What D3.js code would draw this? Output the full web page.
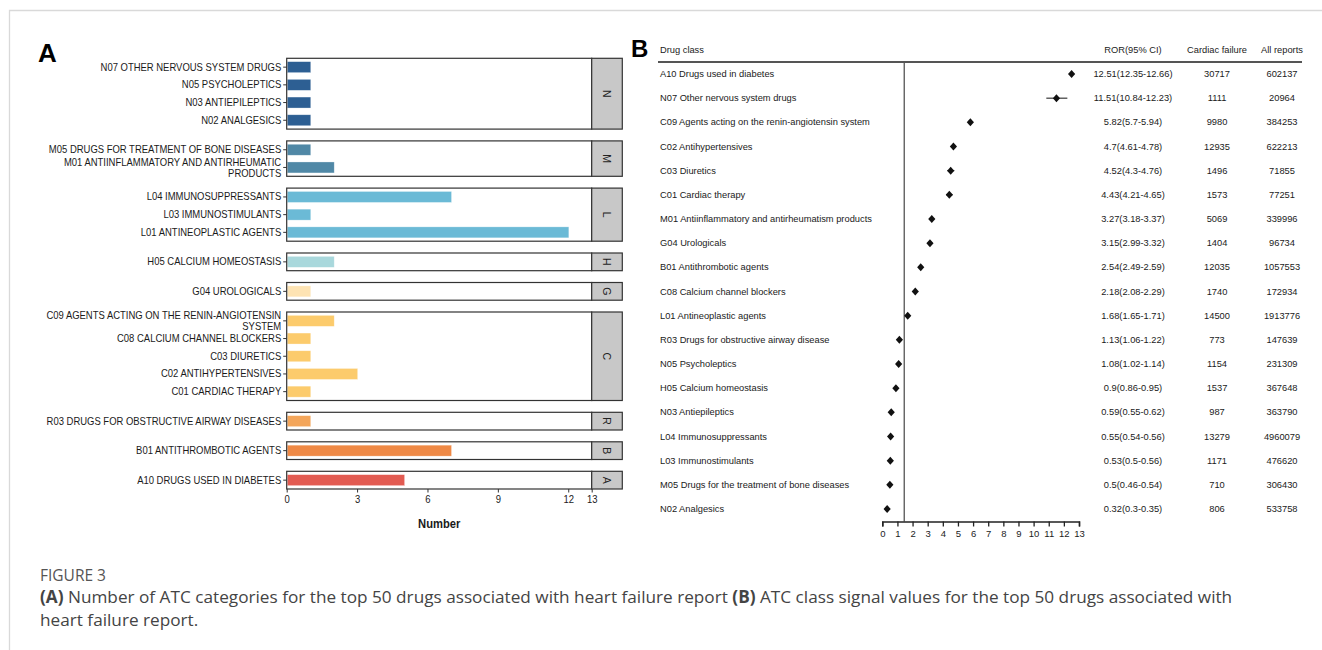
<!DOCTYPE html>
<html lang="en">
<head>
  <meta charset="UTF-8"/>
  <title>Figure 3 ATC categories and ROR</title>
  <script src="https://d3js.org/d3.v7.min.js"></script>
  <style>
    body { margin: 0; background: #fff; }
  </style>
</head>
<body>
<script>
  var w = 1322;
  var h = 650;

  // ---- panel A data ----
  var groups = ["N", "M", "L", "H", "G", "C", "R", "B", "A"];
  var groupColors = ["#2d5f93", "#5088a6", "#6bbad6", "#a9d8dc", "#fde3b3", "#fccb6c", "#f4a65b", "#ef8945", "#e25b52"];
  var atcGroup = ["N", "N", "N", "N", "M", "M", "L", "L", "L", "H", "G", "C", "C", "C", "C", "C", "R", "B", "A"];
  var atcNames = [
    "N07 OTHER NERVOUS SYSTEM DRUGS",
    "N05 PSYCHOLEPTICS",
    "N03 ANTIEPILEPTICS",
    "N02 ANALGESICS",
    "M05 DRUGS FOR TREATMENT OF BONE DISEASES",
    "M01 ANTIINFLAMMATORY AND ANTIRHEUMATIC\nPRODUCTS",
    "L04 IMMUNOSUPPRESSANTS",
    "L03 IMMUNOSTIMULANTS",
    "L01 ANTINEOPLASTIC AGENTS",
    "H05 CALCIUM HOMEOSTASIS",
    "G04 UROLOGICALS",
    "C09 AGENTS ACTING ON THE RENIN-ANGIOTENSIN\nSYSTEM",
    "C08 CALCIUM CHANNEL BLOCKERS",
    "C03 DIURETICS",
    "C02 ANTIHYPERTENSIVES",
    "C01 CARDIAC THERAPY",
    "R03 DRUGS FOR OBSTRUCTIVE AIRWAY DISEASES",
    "B01 ANTITHROMBOTIC AGENTS",
    "A10 DRUGS USED IN DIABETES"
  ];
  var atcCounts = [1, 1, 1, 1, 1, 2, 7, 1, 12, 2, 1, 2, 1, 1, 3, 1, 1, 7, 5];
  var numberTicks = [0, 3, 6, 9, 12, 13];

  // ---- panel B data ----
  var drugClass = [
    "A10 Drugs used in diabetes",
    "N07 Other nervous system drugs",
    "C09 Agents acting on the renin-angiotensin system",
    "C02 Antihypertensives",
    "C03 Diuretics",
    "C01 Cardiac therapy",
    "M01 Antiinflammatory and antirheumatism products",
    "G04 Urologicals",
    "B01 Antithrombotic agents",
    "C08 Calcium channel blockers",
    "L01 Antineoplastic agents",
    "R03 Drugs for obstructive airway disease",
    "N05 Psycholeptics",
    "H05 Calcium homeostasis",
    "N03 Antiepileptics",
    "L04 Immunosuppressants",
    "L03 Immunostimulants",
    "M05 Drugs for the treatment of bone diseases",
    "N02 Analgesics"
  ];
  var ror = [12.51, 11.51, 5.82, 4.7, 4.52, 4.43, 3.27, 3.15, 2.54, 2.18, 1.68, 1.13, 1.08, 0.9, 0.59, 0.55, 0.53, 0.5, 0.32];
  var ciLow = [12.35, 10.84, 5.7, 4.61, 4.3, 4.21, 3.18, 2.99, 2.49, 2.08, 1.65, 1.06, 1.02, 0.86, 0.55, 0.54, 0.5, 0.46, 0.3];
  var ciHigh = [12.66, 12.23, 5.94, 4.78, 4.76, 4.65, 3.37, 3.32, 2.59, 2.29, 1.71, 1.22, 1.14, 0.95, 0.62, 0.56, 0.56, 0.54, 0.35];
  var cardiacFailure = [30717, 1111, 9980, 12935, 1496, 1573, 5069, 1404, 12035, 1740, 14500, 773, 1154, 1537, 987, 13279, 1171, 710, 806];
  var allReports = [602137, 20964, 384253, 622213, 71855, 77251, 339996, 96734, 1057553, 172934, 1913776, 147639, 231309, 367648, 363790, 4960079, 476620, 306430, 533758];
  var rorTicks = d3.range(0, 14);
  var refLine = 1.45;

  var svg = d3.select("body")
          .append("svg")
          .attr("width", w)
          .attr("height", h)
          .style("display", "block");

  // squeeze text horizontally (no narrow font available)
  function squeeze(sel, k) {
    sel.each(function() {
      var len = this.getComputedTextLength();
      d3.select(this).attr("textLength", len * k).attr("lengthAdjust", "spacingAndGlyphs");
    });
  }

  // page frame
  svg.append("path")
          .attr("d", "M9.5," + h + "V10.5H" + w)
          .attr("fill", "none")
          .attr("stroke", "#d9d9d9")
          .attr("stroke-width", 1.3);

  // ================= panel A =================
  var sans = "'Liberation Sans', Arial, sans-serif";
  var xA = d3.scaleLinear().domain([0, 13]).range([286.7, 591.7]);
  var stripW = 30.6;
  var rowStep = 17.7, panelGap = 11.8, topA = 58.3;

  svg.append("text")
          .attr("x", 38).attr("y", 62)
          .attr("font-family", sans)
          .attr("font-weight", "bold")
          .attr("font-size", 26)
          .text("A");

  var colorA = d3.scaleOrdinal().domain(groups).range(groupColors);
  var cursor = topA;
  var gA = svg.append("g");

  groups.forEach(function(g) {
    var idx = d3.range(atcNames.length).filter(function(i) { return atcGroup[i] === g; });
    var y0 = cursor, y1 = cursor + idx.length * rowStep;
    cursor = y1 + panelGap;

    var band = d3.scaleBand()
            .domain(idx.map(function(i) { return atcNames[i]; }))
            .range([y0, y1])
            .paddingInner(0.38)
            .paddingOuter(0.19);

    gA.append("rect")
            .attr("x", xA(0)).attr("y", y0)
            .attr("width", xA(13) - xA(0)).attr("height", y1 - y0)
            .attr("fill", "#fff");

    gA.selectAll(null)
            .data(idx)
            .enter()
            .append("rect")
            .attr("x", xA(0) + 0.6)
            .attr("y", function(i) { return band(atcNames[i]); })
            .attr("width", function(i) { return xA(atcCounts[i]) - xA(0); })
            .attr("height", band.bandwidth())
            .attr("fill", colorA(g))
            .attr("stroke", "#fff")
            .attr("stroke-opacity", 0.5)
            .attr("stroke-width", 0.6);

    gA.append("rect")
            .attr("x", xA(0)).attr("y", y0)
            .attr("width", xA(13) - xA(0)).attr("height", y1 - y0)
            .attr("fill", "none")
            .attr("stroke", "#333")
            .attr("stroke-width", 1.2);

    // strip
    gA.append("rect")
            .attr("x", xA(13)).attr("y", y0)
            .attr("width", stripW).attr("height", y1 - y0)
            .attr("fill", "#c8c8c8")
            .attr("stroke", "#333")
            .attr("stroke-width", 1.2);

    gA.append("text")
            .attr("transform", "translate(" + (xA(13) + stripW / 2) + "," + ((y0 + y1) / 2) + ") rotate(90)")
            .attr("text-anchor", "middle")
            .attr("dominant-baseline", "central")
            .attr("font-family", sans)
            .attr("font-size", 10.5)
            .attr("fill", "#222")
            .text(g);

    // y axis ticks and labels
    var yAxis = d3.axisLeft(band).tickSize(3.5).tickPadding(2);
    var ax = gA.append("g")
            .attr("transform", "translate(" + xA(0) + ",0)")
            .call(yAxis);
    ax.select(".domain").remove();
    ax.selectAll("line").attr("stroke", "#333");
    ax.selectAll("text")
            .attr("font-family", sans)
            .attr("font-size", 11)
            .attr("fill", "#1a1a1a")
            .each(function(d) {
              var lines = d.split("\n");
              if (lines.length > 1) {
                var t = d3.select(this).text(null);
                lines.forEach(function(l, k) {
                  t.append("tspan")
                          .attr("x", -5.5)
                          .attr("dy", k === 0 ? "-0.15em" : "1.0em")
                          .text(l);
                });
                squeeze(t.selectAll("tspan"), 0.86);
              } else {
                squeeze(d3.select(this), 0.86);
              }
            });
  });

  // x axis A
  var lastBottom = cursor - panelGap;
  var xAxisA = d3.axisBottom(xA).tickValues(numberTicks).tickSize(3.5).tickPadding(3);
  var axA = svg.append("g")
          .attr("transform", "translate(0," + lastBottom + ")")
          .call(xAxisA);
  axA.select(".domain").remove();
  axA.selectAll("line").attr("stroke", "#333");
  axA.selectAll("text")
          .attr("font-family", sans)
          .attr("font-size", 11)
          .attr("fill", "#1a1a1a");
  squeeze(axA.selectAll("text"), 0.86);

  var numTitle = svg.append("text")
          .attr("x", (xA(0) + xA(13)) / 2)
          .attr("y", 528)
          .attr("text-anchor", "middle")
          .attr("font-family", sans)
          .attr("font-weight", "bold")
          .attr("font-size", 13)
          .attr("fill", "#1a1a1a")
          .text("Number");
  squeeze(numTitle, 0.86);

  // ================= panel B =================
  var xB = d3.scaleLinear().domain([0, 13]).range([882.3, 1079]);
  var yB = d3.scalePoint().domain(drugClass).range([74, 509]);
  var axisY = 521.5;

  svg.append("text")
          .attr("x", 631).attr("y", 57)
          .attr("font-family", sans)
          .attr("font-weight", "bold")
          .attr("font-size", 24)
          .text("B");

  var headers = [["Drug class", 660, "start"], ["ROR(95% CI)", 1133, "middle"], ["Cardiac failure", 1217, "middle"], ["All reports", 1282, "middle"]];
  svg.selectAll(".hdr")
          .data(headers)
          .enter()
          .append("text")
          .attr("class", "hdr")
          .attr("x", function(d) { return d[1]; })
          .attr("y", 50)
          .attr("dominant-baseline", "central")
          .attr("text-anchor", function(d) { return d[2]; })
          .attr("font-family", sans)
          .attr("font-size", 9.3)
          .attr("fill", "#222")
          .text(function(d) { return d[0]; });

  svg.append("line")
          .attr("x1", 658).attr("x2", 1302)
          .attr("y1", 62).attr("y2", 62)
          .attr("stroke", "#555")
          .attr("stroke-width", 2);

  // reference line
  svg.append("line")
          .attr("x1", xB(refLine)).attr("x2", xB(refLine))
          .attr("y1", 63).attr("y2", axisY)
          .attr("stroke", "#555")
          .attr("stroke-width", 1.3);

  var rows = svg.selectAll(".row")
          .data(drugClass)
          .enter()
          .append("g")
          .attr("class", "row");

  function cell(x, anchor, fn) {
    rows.append("text")
            .attr("x", x)
            .attr("y", function(d) { return yB(d); })
            .attr("dominant-baseline", "central")
            .attr("text-anchor", anchor)
            .attr("font-family", sans)
            .attr("font-size", 9.3)
            .attr("fill", "#1a1a1a")
            .text(fn);
  }
  cell(660, "start", function(d) { return d; });
  cell(1133, "middle", function(d, i) { return ror[i] + "(" + ciLow[i] + "-" + ciHigh[i] + ")"; });
  cell(1217, "middle", function(d, i) { return cardiacFailure[i]; });
  cell(1282, "middle", function(d, i) { return allReports[i]; });

  rows.append("line")
          .attr("x1", function(d, i) { return xB(ciLow[i]); })
          .attr("x2", function(d, i) { return xB(ciHigh[i]); })
          .attr("y1", function(d) { return yB(d); })
          .attr("y2", function(d) { return yB(d); })
          .attr("stroke", "#111")
          .attr("stroke-width", 1);

  rows.append("path")
          .attr("d", "M0,-4L3.6,0L0,4L-3.6,0Z")
          .attr("transform", function(d, i) { return "translate(" + xB(ror[i]) + "," + yB(d) + ")"; })
          .attr("fill", "#111");

  var xAxisB = d3.axisBottom(xB).tickValues(rorTicks).tickSize(5).tickPadding(4);
  var axB = svg.append("g")
          .attr("transform", "translate(0," + axisY + ")")
          .call(xAxisB);
  axB.select(".domain").attr("stroke", "#222").attr("stroke-width", 1.5);
  axB.selectAll("line").attr("stroke", "#222").attr("stroke-width", 1.3);
  axB.selectAll("text")
          .attr("font-family", sans)
          .attr("font-size", 9.5)
          .attr("fill", "#222");

  // ================= caption =================
  var cap = "'Open Sans', 'Noto Sans', sans-serif";
  svg.append("text")
          .attr("x", 40).attr("y", 581)
          .attr("font-family", cap)
          .attr("font-size", 15.5)
          .attr("fill", "#555")
          .text("FIGURE 3");

  var capText = svg.append("text")
          .attr("x", 40).attr("y", 603)
          .attr("font-family", cap)
          .attr("font-size", 17.2)
          .attr("fill", "#444");
  capText.append("tspan").attr("font-weight", "bold").text("(A)");
  capText.append("tspan").text(" Number of ATC categories for the top 50 drugs associated with heart failure report ");
  capText.append("tspan").attr("font-weight", "bold").text("(B)");
  capText.append("tspan").text(" ATC class signal values for the top 50 drugs associated with");

  svg.append("text")
          .attr("x", 40).attr("y", 626)
          .attr("font-family", cap)
          .attr("font-size", 17.2)
          .attr("fill", "#444")
          .text("heart  failure  report.");
</script>
</body>
</html>
